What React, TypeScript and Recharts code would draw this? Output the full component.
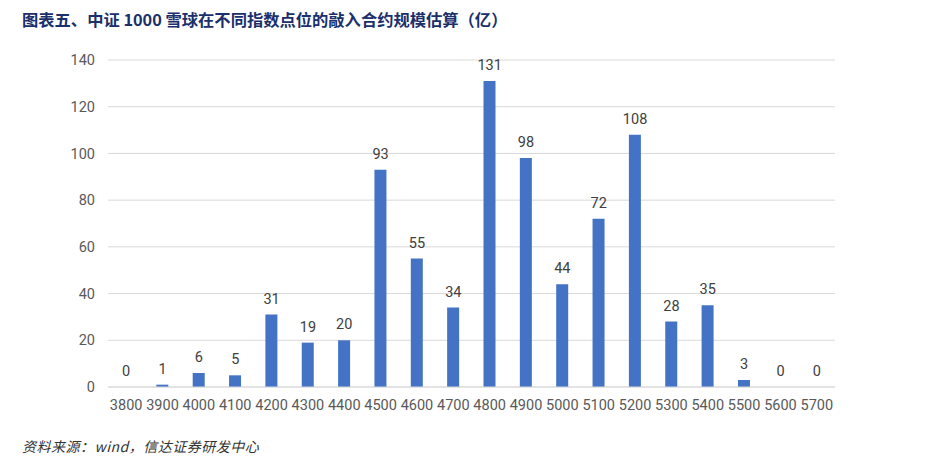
import React from 'react';
import { ComposedChart, Bar, Line, XAxis, YAxis, CartesianGrid, LabelList } from 'recharts';

const categories = ['3800','3900','4000','4100','4200','4300','4400','4500','4600','4700','4800','4900','5000','5100','5200','5300','5400','5500','5600','5700'];
const values = [0,1,6,5,31,19,20,93,55,34,131,98,44,72,108,28,35,3,0,0];
const yTicks = [0,20,40,60,80,100,120,140];

const data = categories.map((c, i) => ({ name: c, value: values[i] }));

const font = 'Roboto, "Noto Sans", sans-serif';

export default function App() {
  return (
    <div style={{ position: 'absolute', left: 0, top: 0, width: 952, height: 465, background: '#fff', fontFamily: '"Noto Sans CJK SC", "Noto Sans", sans-serif' }}>
      <div style={{ position: 'absolute', left: 22, top: 7, fontSize: 16.3, fontWeight: 700, color: '#1a2f6b', whiteSpace: 'nowrap' }}>
        图表五、中证 1000 雪球在不同指数点位的敲入合约规模估算（亿）
      </div>
      <ComposedChart width={952} height={465} data={data} margin={{ top: 60, right: 117, left: 58, bottom: 48 }} barCategoryGap={0}>
        <CartesianGrid vertical={false} stroke="#d9d9d9" />
        <XAxis dataKey="name" interval={0} axisLine={{ stroke: '#d9d9d9' }} tickLine={false} tickMargin={7}
          tick={{ fill: '#595959', fontSize: 14.5, fontFamily: font }} height={30} />
        <YAxis domain={[0, 140]} ticks={yTicks} axisLine={false} tickLine={false} tickMargin={7} width={50}
          tick={{ fill: '#595959', fontSize: 14.5, fontFamily: font }} />
        <Bar dataKey="value" fill="#4472c4" barSize={12} isAnimationActive={false} />
        <Line dataKey="value" stroke="none" dot={false} activeDot={false} isAnimationActive={false} legendType="none">
          <LabelList dataKey="value" position="top" offset={11} fill="#404040" fontSize={14.5} fontFamily={font} />
        </Line>
      </ComposedChart>
      <div style={{ position: 'absolute', left: 22, top: 436, fontSize: 14, fontStyle: 'italic', color: '#333', whiteSpace: 'nowrap', letterSpacing: 0.5 }}>
        资料来源：wind，信达证券研发中心
      </div>
    </div>
  );
}
